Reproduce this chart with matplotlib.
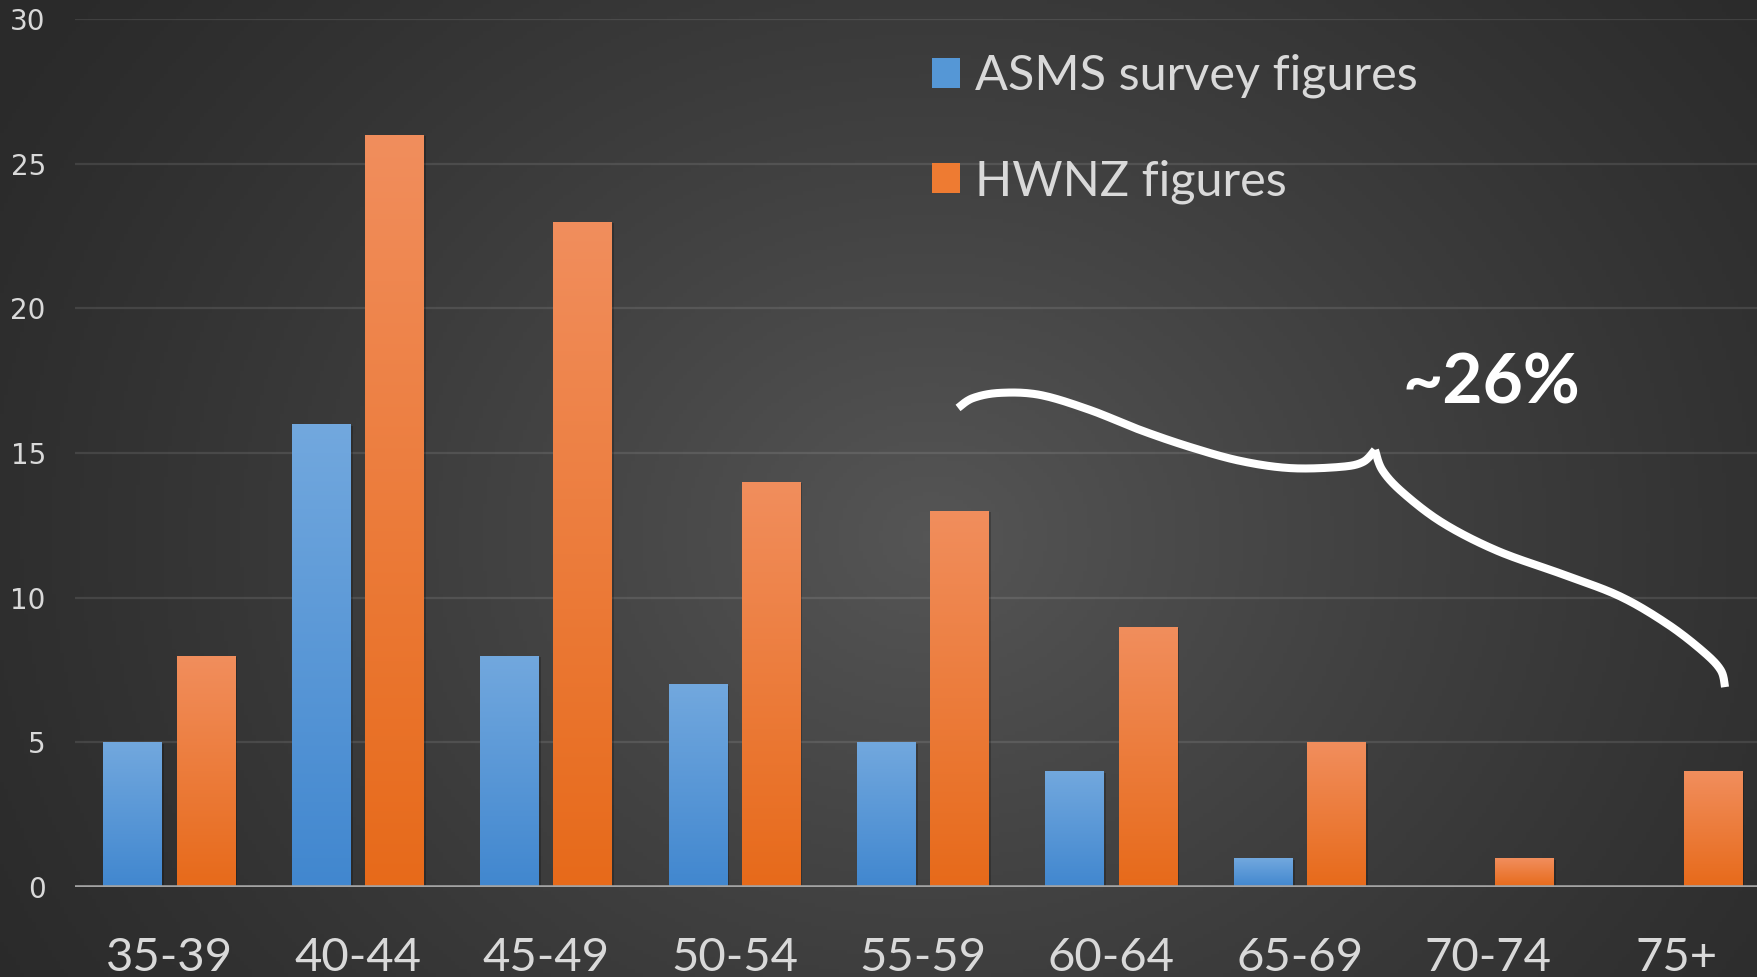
import numpy as np
import matplotlib
matplotlib.use("Agg")
import matplotlib.pyplot as plt
from matplotlib.colors import LinearSegmentedColormap

# ---- data ----
age_groups = ["35-39", "40-44", "45-49", "50-54", "55-59", "60-64", "65-69", "70-74", "75+"]
asms = [5, 16, 8, 7, 5, 4, 1, 0, 0]
hwnz = [8, 26, 23, 14, 13, 9, 5, 1, 4]
series_names = ["ASMS survey figures", "HWNZ figures"]
yticks = [0, 5, 10, 15, 20, 25, 30]

# hand-drawn curly brace over the older age groups (data coords), split at the tip
brace_top_x = [4.187, 4.266, 4.410, 4.622, 4.887, 5.153, 5.418, 5.684, 5.949, 6.214, 6.336, 6.400]
brace_top_y = [16.56, 16.90, 17.08, 17.01, 16.49, 15.80, 15.21, 14.73, 14.48, 14.52, 14.69, 15.11]
brace_low_x = [6.400, 6.440, 6.550, 6.761, 7.050, 7.400, 7.700, 7.950, 8.140, 8.235, 8.258]
brace_low_y = [15.11, 14.40, 13.62, 12.58, 11.62, 10.80, 10.05, 9.10, 8.15, 7.50, 6.91]
brace_label = "~26%"

W, H = 1758, 977
plt.rcParams['font.family'] = ['Lato', 'DejaVu Sans']

fig = plt.figure(figsize=(W / 100, H / 100), dpi=100)

# ---- dark radial background ----
bg = fig.add_axes([0, 0, 1, 1], zorder=-10)
gx, gy = np.meshgrid(np.linspace(0, 1, 440), np.linspace(0, 1, 250))
r = np.sqrt(((gx - 0.53) / 0.62) ** 2 + ((gy - 0.55) / 0.95) ** 2)
t = np.clip(1 - r, 0, 1) ** 1.2
shade = 0.165 + (0.335 - 0.165) * t
bg.imshow(np.dstack([shade, shade, shade]), extent=[0, 1, 0, 1], aspect='auto', origin='upper')
bg.axis('off')

# ---- main axes ----
x0_px, y0_px, cat_px, unit_px = 75, 887, 188.4, 28.93
ax = fig.add_axes([x0_px / W, (H - y0_px) / H, (W - x0_px) / W, 30 * unit_px / H])
ax.patch.set_alpha(0)
for s in ax.spines.values():
    s.set_visible(False)

x = np.arange(len(age_groups))
bw, off = 0.31, 0.194
blue_cm = LinearSegmentedColormap.from_list("b", ["#72a8de", "#4187cf"])
orange_cm = LinearSegmentedColormap.from_list("o", ["#f18e5d", "#e76a1a"])

b1 = ax.bar(x - off, asms, bw, color="#5597d6", label=series_names[0], zorder=3)
b2 = ax.bar(x + off, hwnz, bw, color="#ee7b32", label=series_names[1], zorder=3)

grad = np.linspace(0, 1, 256).reshape(-1, 1)
for bars, cm in ((b1, blue_cm), (b2, orange_cm)):
    for rect in bars:
        h = rect.get_height()
        if h <= 0:
            continue
        bx = rect.get_x()
        # soft drop shadow
        ax.bar(bx + rect.get_width() / 2 + 0.012, h, rect.get_width(), bottom=-0.05,
               color="black", alpha=0.22, zorder=2)
        im = ax.imshow(grad, cmap=cm, extent=[bx, bx + rect.get_width(), 0, h],
                       aspect='auto', origin='upper', zorder=4)
        im.set_clip_path(rect)

ax.set_xlim(-0.5, -0.5 + (W - x0_px) / cat_px)
ax.set_ylim(0, 30)
ax.set_yticks(yticks)
ax.yaxis.grid(True, color="white", alpha=0.10, lw=1.6, zorder=0)
ax.axhline(0, color="#a3a3a3", lw=2.6, zorder=6)

ax.set_xticks(x)
ax.set_xticklabels(age_groups)
ax.tick_params(axis='x', length=0, pad=36, labelsize=34, labelcolor="#d9d9d9")
ax.tick_params(axis='y', length=0, pad=21, labelsize=20, labelcolor="#d9d9d9")
for lab in ax.get_yticklabels():
    lab.set_family(['DejaVu Sans'])
for lab in ax.get_xticklabels():
    lab.set_verticalalignment('top')

# ---- legend ----
leg = ax.legend(handles=[b1, b2], loc='upper left',
                bbox_to_anchor=(932 / W, 1 - 54 / H), bbox_transform=fig.transFigure,
                frameon=False, fontsize=35, handlelength=0.58, handleheight=0.58,
                handletextpad=0.31, labelspacing=1.25, borderpad=0, borderaxespad=0)
for txt in leg.get_texts():
    txt.set_color("#d9d9d9")

# ---- brace annotation ----
def catmull(px, py, n=20):
    P = np.column_stack([px, py])
    P = np.vstack([P[0], P, P[-1]])
    out = []
    for i in range(1, len(P) - 2):
        p0, p1, p2, p3 = P[i - 1], P[i], P[i + 1], P[i + 2]
        for s in np.linspace(0, 1, n, endpoint=False):
            out.append(0.5 * ((2 * p1) + (-p0 + p2) * s + (2 * p0 - 5 * p1 + 4 * p2 - p3) * s ** 2
                              + (-p0 + 3 * p1 - 3 * p2 + p3) * s ** 3))
    out.append(P[-2])
    return np.array(out)

for bx_, by_ in ((brace_top_x, brace_top_y), (brace_low_x, brace_low_y)):
    c = catmull(bx_, by_)
    ax.plot(c[:, 0], c[:, 1], color="white", lw=5.8, solid_capstyle='butt',
            solid_joinstyle='miter', zorder=7, clip_on=False)
ax.text(7.016, 16.7, brace_label, ha='center', va='baseline', fontsize=50,
        fontweight='bold', color="white", zorder=8)

fig.savefig("out.png", dpi=100)
